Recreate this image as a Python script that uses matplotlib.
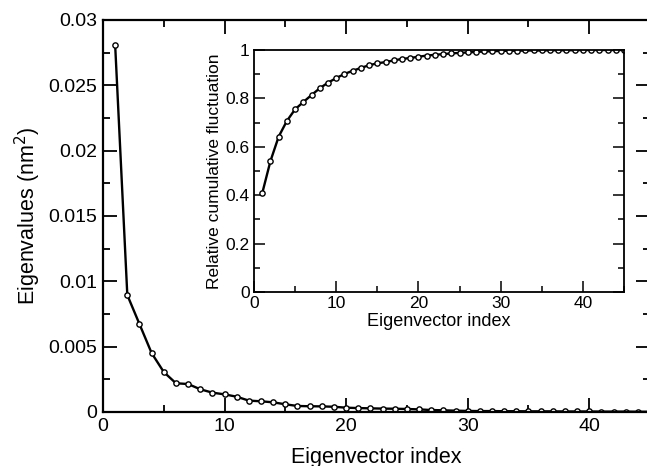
import numpy as np
import matplotlib
matplotlib.use('Agg')
import matplotlib.pyplot as plt
from matplotlib.ticker import MultipleLocator

plt.rcParams['font.family'] = ['Liberation Sans', 'DejaVu Sans']

# eigenvalues (nm^2) for eigenvector index 1..45
index = np.arange(1, 46)
eigenvalues = [0.02809, 0.00895, 0.00673, 0.00451, 0.00306, 0.00220, 0.00214, 0.00174,
               0.00148, 0.00135, 0.00117, 0.00087, 0.00082, 0.00074, 0.00059, 0.00046,
               0.00044, 0.00043, 0.00040, 0.00033, 0.00030, 0.00028, 0.00026, 0.00025,
               0.00023, 0.00020, 0.00015, 0.00013, 0.00010, 0.00008, 0.00007, 0.00007,
               0.00006, 0.00006, 0.00005, 0.00005, 0.00005, 0.00004, 0.00004, 0.00004,
               0.00003, 0.00003, 0.00003, 0.00002, 0.00002]

# relative cumulative fluctuation
cumulative = [0.408, 0.541, 0.642, 0.707, 0.755, 0.785, 0.814, 0.842, 0.865, 0.884,
              0.901, 0.914, 0.926, 0.937, 0.945, 0.950, 0.957, 0.963, 0.967, 0.972,
              0.977, 0.980, 0.983, 0.986, 0.988, 0.990, 0.992, 0.994, 0.995, 0.996,
              0.997, 0.997, 0.998, 0.998, 0.998, 0.999, 0.999, 0.999, 0.999, 1.000,
              1.000, 1.000, 1.000, 1.000, 1.000]

fig = plt.figure(figsize=(6.47, 4.66), dpi=100)
ax = fig.add_axes([103 / 647, 1 - 412 / 466, (650 - 103) / 647, (412 - 20) / 466])

style = dict(color='black', lw=1.7, marker='o', ms=3.8, mfc='white', mec='black', mew=1.0)
ax.plot(index, eigenvalues, **style)
ax.set_xlim(0, 45)
ax.set_ylim(0, 0.03)
ax.xaxis.set_major_locator(MultipleLocator(10))
ax.xaxis.set_minor_locator(MultipleLocator(5))
ax.yaxis.set_minor_locator(MultipleLocator(0.0025))
ax.set_yticks([0, 0.005, 0.01, 0.015, 0.02, 0.025, 0.03])
ax.set_yticklabels(['0', '0.005', '0.01', '0.015', '0.02', '0.025', '0.03'])
ax.tick_params(which='both', direction='in', top=True, right=True, labelsize=14, width=1.3, pad=4)
ax.tick_params(which='major', length=10)
ax.tick_params(which='minor', length=5)
for s in ax.spines.values():
    s.set_linewidth(1.6)
ax.set_xlabel('Eigenvector index', fontsize=15.5, labelpad=9)
ax.set_ylabel('Eigenvalues (nm$^2$)', fontsize=15.5, labelpad=4)

# inset
ins = fig.add_axes([254 / 647, 1 - 292 / 466, (624 - 254) / 647, (292 - 50) / 466])
ins.plot(index, cumulative, **style)
ins.set_xlim(0, 45)
ins.set_ylim(0, 1)
ins.xaxis.set_major_locator(MultipleLocator(10))
ins.xaxis.set_minor_locator(MultipleLocator(5))
ins.yaxis.set_minor_locator(MultipleLocator(0.1))
ins.set_yticks([0, 0.2, 0.4, 0.6, 0.8, 1.0])
ins.set_yticklabels(['0', '0.2', '0.4', '0.6', '0.8', '1'])
ins.tick_params(which='both', direction='in', top=False, right=True, labelsize=12.5, width=1.1, pad=3)
ins.tick_params(which='major', length=8)
ins.tick_params(which='minor', length=4)
for s in ins.spines.values():
    s.set_linewidth(1.3)
ins.set_xlabel('Eigenvector index', fontsize=13, labelpad=1)
ins.set_ylabel('Relative cumulative fluctuation', fontsize=12.5, labelpad=3)

fig.savefig('out.png', dpi=100)
